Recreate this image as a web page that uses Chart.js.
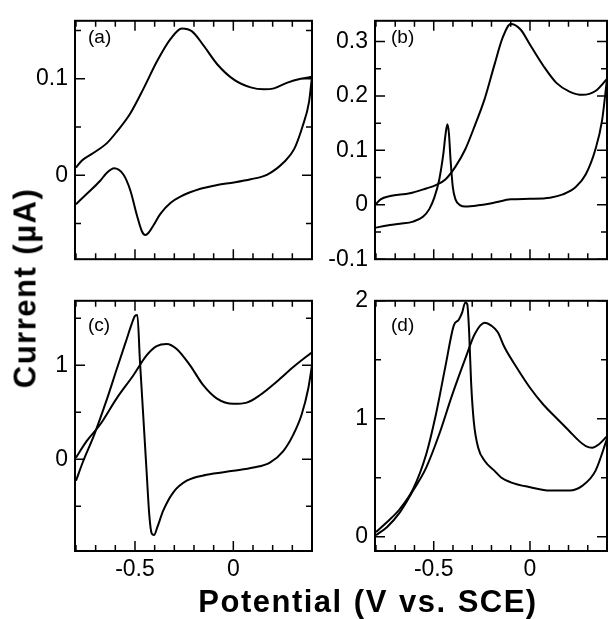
<!DOCTYPE html>
<html>
<head>
<meta charset="utf-8">
<script src="https://cdn.jsdelivr.net/npm/chart.js@4.4.0/dist/chart.umd.min.js"></script>
<style>
html,body{margin:0;padding:0;background:#fff;}
#wrap{position:relative;width:612px;height:619px;overflow:hidden;background:#fff;}
canvas{position:absolute;}
.lbl{position:absolute;font-family:'Liberation Sans',Arial,sans-serif;font-size:19px;line-height:19px;color:#000;white-space:nowrap;}
.title{position:absolute;font-family:'Liberation Sans',Arial,sans-serif;font-weight:bold;font-size:31px;line-height:31px;color:#000;white-space:nowrap;}
</style>
</head>
<body>
<div id="wrap">
  <canvas id="ca" width="320" height="280" style="left:0;top:0"></canvas>
  <canvas id="cb" width="292" height="280" style="left:320px;top:0"></canvas>
  <canvas id="cc" width="320" height="339" style="left:0;top:280px"></canvas>
  <canvas id="cd" width="292" height="339" style="left:320px;top:280px"></canvas>
  <div class="lbl" style="left:88px;top:27px">(a)</div>
  <div class="lbl" style="left:391px;top:27px">(b)</div>
  <div class="lbl" style="left:88px;top:315px">(c)</div>
  <div class="lbl" style="left:391px;top:315px">(d)</div>
  <div class="title" style="left:368px;top:586px;transform:translateX(-50%);letter-spacing:1.5px;word-spacing:1px">Potential (V vs. SCE)</div>
  <div class="title" style="left:25px;top:288px;transform:translate(-50%,-50%) rotate(-90deg);letter-spacing:1.5px;word-spacing:1px">Current (µA)</div>
</div>
<script>
// ---------- shared x axis ----------
const xRange = [-0.805, 0.40];
const xTickValues = [-0.8,-0.7,-0.6,-0.5,-0.4,-0.3,-0.2,-0.1,0,0.1,0.2,0.3,0.4];
const xMajorTicks = [-0.5, 0];
const xTickLabels = ['-0.5', '0'];

// ---------- panel (a) ----------
const aYRange = [-0.087, 0.16];
const aYTicks = [-0.05, 0, 0.05, 0.1, 0.15];
const aYMajor = [0, 0.1];
const aYLabels = ['0', '0.1'];
const aForwardV = [-0.80,-0.771,-0.712,-0.644,-0.593,-0.524,-0.456,-0.388,-0.320,-0.261,-0.210,-0.150,-0.082,0.003,0.088,0.156,0.207,0.275,0.343,0.40];
const aForwardI = [0.008,0.015,0.023,0.033,0.045,0.064,0.090,0.118,0.141,0.152,0.149,0.134,0.115,0.099,0.091,0.089,0.090,0.096,0.100,0.102];
const aReverseV = [-0.80,-0.746,-0.678,-0.644,-0.606,-0.559,-0.524,-0.490,-0.465,-0.448,-0.431,-0.405,-0.371,-0.320,-0.269,-0.167,-0.082,0.003,0.088,0.173,0.258,0.309,0.351,0.385,0.40];
const aReverseI = [-0.030,-0.0195,-0.006,0.0023,0.0072,0.0007,-0.0156,-0.0417,-0.058,-0.0619,-0.0596,-0.0515,-0.040,-0.0287,-0.0221,-0.014,-0.0101,-0.0075,-0.0042,0.0007,0.0137,0.027,0.050,0.076,0.102];

// ---------- panel (b) ----------
const bYRange = [-0.1, 0.338];
const bYTicks = [-0.1,-0.05,0,0.05,0.1,0.15,0.2,0.25,0.3];
const bYMajor = [-0.1, 0, 0.1, 0.2, 0.3];
const bYLabels = ['-0.1', '0', '0.1', '0.2', '0.3'];
const bUpperV = [-0.80,-0.776,-0.726,-0.624,-0.539,-0.489,-0.438,-0.387,-0.336,-0.286,-0.235,-0.184,-0.142,-0.100,-0.049,0.002,0.070,0.137,0.205,0.273,0.340,0.40];
const bUpperI = [0.001,0.010,0.016,0.021,0.030,0.036,0.047,0.070,0.102,0.146,0.195,0.258,0.307,0.332,0.322,0.293,0.255,0.224,0.208,0.202,0.209,0.231];
const bLowerV = [-0.80,-0.742,-0.675,-0.607,-0.556,-0.523,-0.497,-0.472,-0.451,-0.438,-0.429,-0.421,-0.413,-0.401,-0.387,-0.362,-0.336,-0.270,-0.184,-0.100,0.0,0.104,0.171,0.239,0.290,0.340,0.374,0.40];
const bLowerI = [-0.042,-0.038,-0.035,-0.031,-0.022,-0.008,0.013,0.045,0.091,0.131,0.148,0.131,0.085,0.033,0.010,-0.001,-0.003,-0.001,0.004,0.010,0.011,0.013,0.019,0.033,0.056,0.102,0.154,0.231];

// ---------- panel (c) ----------
const cYRange = [-0.976, 1.687];
const cYTicks = [-0.5, 0, 0.5, 1, 1.5];
const cYMajor = [0, 1];
const cYLabels = ['0', '1'];
const cSharpV = [-0.80,-0.763,-0.707,-0.644,-0.593,-0.542,-0.517,-0.500,-0.488,-0.475,-0.458,-0.441,-0.427,-0.415,-0.403,-0.386,-0.356,-0.305,-0.237,-0.136,0.0,0.102,0.186,0.254,0.305,0.347,0.381,0.40];
const cSharpI = [-0.228,-0.018,0.263,0.632,0.958,1.281,1.439,1.526,1.537,1.053,0.463,-0.13,-0.60,-0.79,-0.807,-0.72,-0.544,-0.351,-0.228,-0.165,-0.123,-0.088,-0.035,0.088,0.263,0.474,0.754,1.0];
const cBroadV = [-0.80,-0.746,-0.678,-0.593,-0.508,-0.441,-0.390,-0.339,-0.288,-0.220,-0.153,-0.085,0.0,0.068,0.136,0.220,0.305,0.40];
const cBroadI = [0.018,0.193,0.368,0.649,0.895,1.105,1.204,1.228,1.175,1.0,0.789,0.649,0.59,0.603,0.684,0.825,0.982,1.14];

// ---------- panel (d) ----------
const dYRange = [-0.12, 2.0];
const dYTicks = [0, 0.5, 1, 1.5, 2];
const dYMajor = [0, 1, 2];
const dYLabels = ['0', '1', '2'];
const dSharpV = [-0.80,-0.742,-0.675,-0.607,-0.539,-0.489,-0.438,-0.396,-0.370,-0.353,-0.336,-0.326,-0.316,-0.306,-0.292,-0.269,-0.235,-0.184,-0.150,-0.100,0.002,0.104,0.205,0.273,0.340,0.40];
const dSharpI = [0.042,0.126,0.238,0.406,0.70,1.035,1.455,1.79,1.84,1.897,1.986,1.972,1.734,1.315,0.979,0.755,0.643,0.559,0.503,0.462,0.42,0.392,0.392,0.434,0.559,0.83];
const dBroadV = [-0.80,-0.742,-0.675,-0.607,-0.539,-0.472,-0.404,-0.336,-0.286,-0.235,-0.201,-0.167,-0.133,-0.066,0.002,0.070,0.137,0.205,0.256,0.290,0.323,0.357,0.40];
const dBroadI = [0.014,0.084,0.21,0.392,0.587,0.867,1.203,1.51,1.72,1.813,1.79,1.734,1.608,1.427,1.259,1.119,1.007,0.895,0.811,0.769,0.755,0.783,0.853];

// ---------- helpers ----------
const FONT = {family: "'Liberation Sans', Arial, sans-serif", size: 23};
function near(v, arr) { return arr.findIndex(m => Math.abs(m - v) < 1e-6); }
function labelFor(v, majors, labels) { const k = near(v, majors); return k >= 0 ? labels[k] : ''; }
function pts(vs, is) { return vs.map((x, k) => ({x: x, y: is[k]})); }

function framePlugin(xMajors, yMajors) {
  return {
    id: 'frame',
    afterDatasetsDraw(chart) {
      const {ctx, chartArea: a, scales: {x, y}} = chart;
      ctx.save();
      ctx.strokeStyle = '#000';
      ctx.lineWidth = 1.5;
      ctx.beginPath();
      x.ticks.forEach(t => {
        const p = x.getPixelForValue(t.value);
        const L = near(t.value, xMajors) >= 0 ? 10 : 6;
        ctx.moveTo(p, a.bottom); ctx.lineTo(p, a.bottom - L);
        ctx.moveTo(p, a.top); ctx.lineTo(p, a.top + L);
      });
      y.ticks.forEach(t => {
        const p = y.getPixelForValue(t.value);
        const L = near(t.value, yMajors) >= 0 ? 10 : 6;
        ctx.moveTo(a.left, p); ctx.lineTo(a.left + L, p);
        ctx.moveTo(a.right, p); ctx.lineTo(a.right - L, p);
      });
      ctx.stroke();
      ctx.lineWidth = 2;
      ctx.strokeRect(a.left, a.top, a.right - a.left, a.bottom - a.top);
      ctx.restore();
    }
  };
}

function makeChart(id, p) {
  const ds = p.series.map(s => ({
    data: pts(s[0], s[1]),
    showLine: true,
    borderColor: '#000',
    borderWidth: 2,
    pointRadius: 0,
    fill: false,
    cubicInterpolationMode: 'monotone'
  }));
  return new Chart(document.getElementById(id), {
    type: 'scatter',
    data: {datasets: ds},
    options: {
      responsive: false,
      animation: false,
      devicePixelRatio: 1,
      layout: {padding: {left: 0, top: p.padTop, right: p.padRight, bottom: 0}},
      plugins: {legend: {display: false}, tooltip: {enabled: false}, title: {display: false}},
      scales: {
        x: {
          type: 'linear', min: xRange[0], max: xRange[1], bounds: 'data',
          grid: {display: false, drawTicks: false}, border: {display: false},
          afterBuildTicks: s => { s.ticks = xTickValues.map(v => ({value: v})); },
          afterFit: s => { s.height = p.xH; },
          ticks: {
            autoSkip: false, maxRotation: 0, minRotation: 0, padding: 5, color: '#000', font: FONT,
            callback: v => p.showX ? labelFor(v, xMajorTicks, xTickLabels) : ''
          }
        },
        y: {
          type: 'linear', min: p.yRange[0], max: p.yRange[1], bounds: 'data',
          grid: {display: false, drawTicks: false}, border: {display: false},
          afterBuildTicks: s => { s.ticks = p.yTicks.map(v => ({value: v})); },
          afterFit: s => { s.width = p.yW; },
          ticks: {
            autoSkip: false, padding: 7, color: '#000', font: FONT,
            callback: v => labelFor(v, p.yMajor, p.yLabels)
          }
        }
      }
    },
    plugins: [framePlugin(xMajorTicks, p.yMajor)]
  });
}

makeChart('ca', {padTop: 14, padRight: 8, yW: 75, xH: 14, showX: false,
  yRange: aYRange, yTicks: aYTicks, yMajor: aYMajor, yLabels: aYLabels,
  series: [[aForwardV, aForwardI], [aReverseV, aReverseI]]});
makeChart('cb', {padTop: 14, padRight: 1, yW: 55, xH: 14, showX: false,
  yRange: bYRange, yTicks: bYTicks, yMajor: bYMajor, yLabels: bYLabels,
  series: [[bUpperV, bUpperI], [bLowerV, bLowerI]]});
makeChart('cc', {padTop: 18, padRight: 8, yW: 75, xH: 68, showX: true,
  yRange: cYRange, yTicks: cYTicks, yMajor: cYMajor, yLabels: cYLabels,
  series: [[cSharpV, cSharpI], [cBroadV, cBroadI]]});
makeChart('cd', {padTop: 18, padRight: 1, yW: 55, xH: 68, showX: true,
  yRange: dYRange, yTicks: dYTicks, yMajor: dYMajor, yLabels: dYLabels,
  series: [[dSharpV, dSharpI], [dBroadV, dBroadI]]});
</script>
</body>
</html>
